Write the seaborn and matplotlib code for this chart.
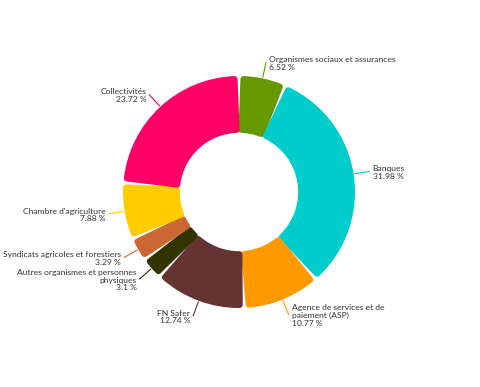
import numpy as np
import matplotlib
matplotlib.use("Agg")
import matplotlib.pyplot as plt
import seaborn as sns

# Data (clockwise from top)
categories = [
    "Organismes sociaux et assurances",
    "Banques",
    "Agence de services et de\npaiement (ASP)",
    "FN Safer",
    "Autres organismes et personnes\nphysiques",
    "Syndicats agricoles et forestiers",
    "Chambre d'agriculture",
    "Collectivités",
]
shares = [6.52, 31.98, 10.77, 12.74, 3.1, 3.29, 7.88, 23.72]
colors = ["#669900", "#00cccc", "#ff9900", "#663333",
          "#333300", "#cc6633", "#ffcc00", "#ff0066"]

sns.set_theme(style="white")
plt.rcParams['font.family'] = ['Lato', 'DejaVu Sans']

W, H = 480, 387
cx, cy, R = 239, 192, 116  # donut center / radius in pixels

fig = plt.figure(figsize=(W / 100, H / 100), dpi=100)
ax = fig.add_axes([0, 0, 1, 1])

wedges, _ = ax.pie(shares, colors=colors, startangle=90, counterclock=False,
                   radius=1.0, wedgeprops=dict(width=0.49))

# rounded corners + gaps between slices
d = 3.0 / R       # corner radius
gap = 1.2 / R     # half gap
for w, c in zip(wedges, colors):
    dth = np.degrees((d + gap) / 0.92)
    t1, t2 = w.theta1, w.theta2
    w.set_theta1(t1 + dth)
    w.set_theta2(t2 - dth)
    w.set_radius(1.0 - d)
    w.set_width(0.49 - 2 * d)
    w.set_edgecolor(c)
    w.set_linewidth(2 * d * R * 0.72)
    w.set_joinstyle("round")

# labels with leader lines
cum = np.cumsum([0] + shares[:-1])
for cat, v, c, start in zip(categories, shares, colors, cum):
    mid = np.radians(90 - 360 * (start + v / 2) / 100)
    x0, y0 = 1.01 * np.cos(mid), 1.01 * np.sin(mid)
    x1, y1 = 1.14 * np.cos(mid), 1.14 * np.sin(mid)
    ax.plot([x0, x1], [y0, y1], color=c, lw=0.8)
    right = np.cos(mid) >= 0
    off = 3.0 / R
    ax.text(x1 + (off if right else -off), y1 - 1.0 / R, f"{cat}\n{v:g} %",
            ha="left" if right else "right", va="center",
            multialignment="left" if right else "right",
            fontsize=6.1, color="#333333", linespacing=1.15)

ax.set_xlim(-cx / R, (W - cx) / R)
ax.set_ylim(-(H - cy) / R, cy / R)
ax.set_aspect("auto")
ax.axis("off")

fig.savefig("out.png", dpi=100)
